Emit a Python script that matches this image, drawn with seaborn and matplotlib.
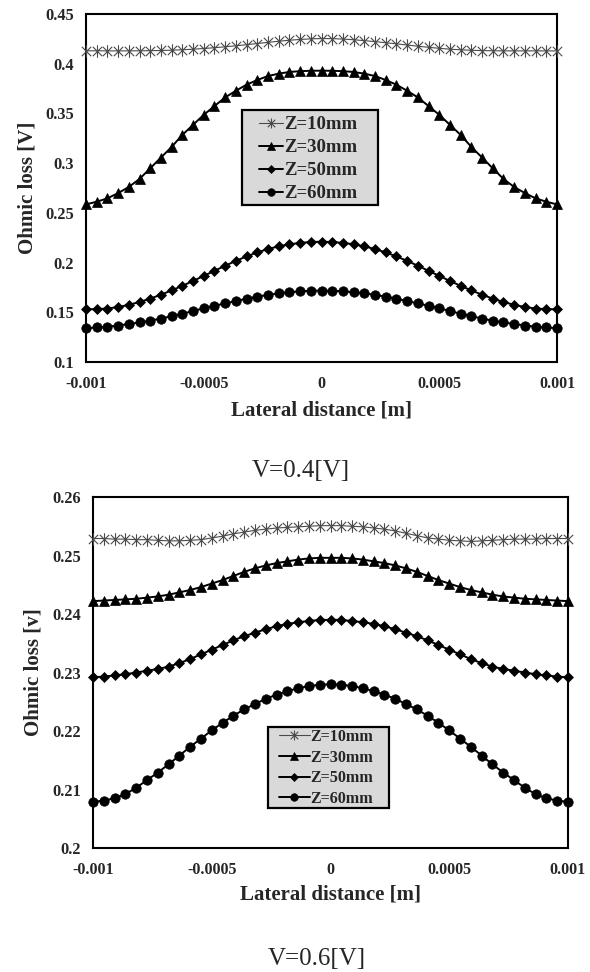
import matplotlib
matplotlib.use("Agg")
import matplotlib.pyplot as plt
from matplotlib.path import Path
from matplotlib.patches import Rectangle
import seaborn as sns
import pandas as pd

# ---------------- data ----------------
lateral = [-0.0010000, -0.0009545, -0.0009091, -0.0008636, -0.0008182, -0.0007727,
           -0.0007273, -0.0006818, -0.0006364, -0.0005909, -0.0005455, -0.0005000,
           -0.0004545, -0.0004091, -0.0003636, -0.0003182, -0.0002727, -0.0002273,
           -0.0001818, -0.0001364, -0.0000909, -0.0000455, 0.0,
           0.0000455, 0.0000909, 0.0001364, 0.0001818, 0.0002273, 0.0002727,
           0.0003182, 0.0003636, 0.0004091, 0.0004545, 0.0005000, 0.0005455,
           0.0005909, 0.0006364, 0.0006818, 0.0007273, 0.0007727, 0.0008182,
           0.0008636, 0.0009091, 0.0009545, 0.0010000]

series_labels = ["Z=10mm", "Z=30mm", "Z=50mm", "Z=60mm"]

# V = 0.4 [V]
top_z10 = [0.4130, 0.4130, 0.4129, 0.4129, 0.4129, 0.4130, 0.4131, 0.4133, 0.4136, 0.4140,
           0.4146, 0.4153, 0.4161, 0.4170, 0.4180, 0.4191, 0.4203, 0.4215, 0.4226, 0.4236,
           0.4244, 0.4250, 0.4253,
           0.4252, 0.4248, 0.4241, 0.4232, 0.4222, 0.4211, 0.4200, 0.4188, 0.4176, 0.4165,
           0.4155, 0.4146, 0.4140, 0.4135, 0.4132, 0.4130, 0.4129, 0.4129, 0.4129, 0.4129,
           0.4129, 0.4129]
top_z30 = [0.2585, 0.2612, 0.2646, 0.2699, 0.2760, 0.2841, 0.2948, 0.3056, 0.3163, 0.3284,
           0.3385, 0.3486, 0.3574, 0.3661, 0.3728, 0.3789, 0.3836, 0.3876, 0.3900, 0.3917,
           0.3925, 0.3929, 0.3930,
           0.3929, 0.3925, 0.3917, 0.3900, 0.3876, 0.3836, 0.3789, 0.3728, 0.3661, 0.3574,
           0.3486, 0.3385, 0.3284, 0.3163, 0.3056, 0.2948, 0.2841, 0.2760, 0.2699, 0.2646,
           0.2612, 0.2585]
top_z50 = [0.1530, 0.1532, 0.1538, 0.1553, 0.1575, 0.1603, 0.1637, 0.1677, 0.1720, 0.1766,
           0.1815, 0.1866, 0.1917, 0.1968, 0.2017, 0.2062, 0.2102, 0.2136, 0.2163, 0.2184,
           0.2198, 0.2207, 0.2210,
           0.2207, 0.2198, 0.2184, 0.2163, 0.2136, 0.2102, 0.2062, 0.2017, 0.1968, 0.1917,
           0.1866, 0.1815, 0.1766, 0.1720, 0.1677, 0.1637, 0.1603, 0.1575, 0.1553, 0.1538,
           0.1532, 0.1530]
top_z60 = [0.1340, 0.1348, 0.1356, 0.1367, 0.1382, 0.1398, 0.1416, 0.1437, 0.1460, 0.1485,
           0.1512, 0.1540, 0.1565, 0.1589, 0.1613, 0.1636, 0.1657, 0.1675, 0.1690, 0.1702,
           0.1711, 0.1717, 0.1719,
           0.1717, 0.1711, 0.1702, 0.1690, 0.1675, 0.1657, 0.1636, 0.1613, 0.1589, 0.1565,
           0.1540, 0.1512, 0.1485, 0.1460, 0.1437, 0.1416, 0.1398, 0.1382, 0.1367, 0.1356,
           0.1348, 0.1340]

# V = 0.6 [V]
bot_z10 = [0.2529, 0.2529, 0.2528, 0.2528, 0.2527, 0.2527, 0.2526, 0.2525, 0.2525, 0.2526,
           0.2527, 0.2530, 0.2533, 0.2537, 0.2540, 0.2543, 0.2545, 0.2547, 0.2548, 0.2549,
           0.2550, 0.2551, 0.2551,
           0.2551, 0.2550, 0.2549, 0.2547, 0.2545, 0.2542, 0.2538, 0.2534, 0.2530, 0.2528,
           0.2526, 0.2525, 0.2524, 0.2525, 0.2526, 0.2527, 0.2528, 0.2528, 0.2528, 0.2529,
           0.2529, 0.2529]
bot_z30 = [0.2422, 0.2423, 0.2424, 0.2425, 0.2426, 0.2428, 0.2430, 0.2433, 0.2437, 0.2441,
           0.2446, 0.2452, 0.2458, 0.2465, 0.2472, 0.2478, 0.2483, 0.2487, 0.2490, 0.2493,
           0.2495, 0.2496, 0.2496,
           0.2496, 0.2495, 0.2493, 0.2490, 0.2487, 0.2483, 0.2478, 0.2472, 0.2465, 0.2458,
           0.2452, 0.2446, 0.2441, 0.2437, 0.2433, 0.2430, 0.2428, 0.2426, 0.2425, 0.2424,
           0.2423, 0.2422]
bot_z50 = [0.2292, 0.2293, 0.2295, 0.2297, 0.2300, 0.2303, 0.2306, 0.2310, 0.2316, 0.2323,
           0.2331, 0.2339, 0.2347, 0.2355, 0.2362, 0.2368, 0.2374, 0.2379, 0.2383, 0.2386,
           0.2388, 0.2390, 0.2390,
           0.2390, 0.2388, 0.2386, 0.2383, 0.2379, 0.2374, 0.2368, 0.2362, 0.2355, 0.2347,
           0.2339, 0.2331, 0.2323, 0.2316, 0.2310, 0.2306, 0.2303, 0.2300, 0.2297, 0.2295,
           0.2293, 0.2292]
bot_z60 = [0.2079, 0.2081, 0.2085, 0.2092, 0.2103, 0.2116, 0.2129, 0.2143, 0.2158, 0.2173,
           0.2187, 0.2201, 0.2214, 0.2226, 0.2237, 0.2246, 0.2255, 0.2262, 0.2268, 0.2273,
           0.2277, 0.2279, 0.2280,
           0.2279, 0.2277, 0.2273, 0.2268, 0.2262, 0.2255, 0.2246, 0.2237, 0.2226, 0.2214,
           0.2201, 0.2187, 0.2173, 0.2158, 0.2143, 0.2129, 0.2116, 0.2103, 0.2092, 0.2085,
           0.2081, 0.2079]

x_ticks = [-0.001, -0.0005, 0, 0.0005, 0.001]
x_tick_labels = ["-0.001", "-0.0005", "0", "0.0005", "0.001"]
top_y_ticks = [0.1, 0.15, 0.2, 0.25, 0.3, 0.35, 0.4, 0.45]
top_y_tick_labels = ["0.1", "0.15", "0.2", "0.25", "0.3", "0.35", "0.4", "0.45"]
bot_y_ticks = [0.2, 0.21, 0.22, 0.23, 0.24, 0.25, 0.26]
bot_y_tick_labels = ["0.2", "0.21", "0.22", "0.23", "0.24", "0.25", "0.26"]

# ---------------- style ----------------
sns.set_theme(style="white")
plt.rcParams["font.family"] = ["Liberation Serif", "DejaVu Serif"]

# Excel-like "star" marker: an X with a vertical stroke
star_path = Path(
    [(0, -1), (0, 1), (-0.75, -0.75), (0.75, 0.75), (-0.75, 0.75), (0.75, -0.75)],
    [Path.MOVETO, Path.LINETO, Path.MOVETO, Path.LINETO, Path.MOVETO, Path.LINETO],
)

styles = {
    "Z=10mm": dict(marker=star_path, markersize=9, markerfacecolor="none",
                   markeredgecolor="#4a4a4a", markeredgewidth=0.8,
                   color="#4a4a4a", linewidth=0.8),
    "Z=30mm": dict(marker="^", markersize=6.5, markerfacecolor="black",
                   markeredgecolor="black", markeredgewidth=0.5,
                   color="black", linewidth=1.4),
    "Z=50mm": dict(marker="D", markersize=4.8, markerfacecolor="black",
                   markeredgecolor="black", markeredgewidth=0.5,
                   color="black", linewidth=1.4),
    "Z=60mm": dict(marker="o", markersize=6.8, markerfacecolor="black",
                   markeredgecolor="black", markeredgewidth=0.5,
                   color="black", linewidth=1.4),
}

W, H = 590, 972
fig = plt.figure(figsize=(W / 100, H / 100), dpi=100)
ax1 = fig.add_axes([86 / W, 1 - 362 / H, 471 / W, 348 / H])
ax2 = fig.add_axes([93 / W, 1 - 848 / H, 475 / W, 351 / H])


def draw(ax, ys, yticks, yticklabels, ylim, ylabel, box_px, leg_px, leg_size,
         handlelen, lspace, ylabel_x, xlabel_y):
    for lab, y in zip(series_labels, ys):
        df = pd.DataFrame({"x": lateral, "y": y})
        sns.lineplot(data=df, x="x", y="y", ax=ax, label=lab, clip_on=False,
                     zorder=3, **styles[lab])
    ax.set_xlim(-0.001, 0.001)
    ax.set_ylim(*ylim)
    ax.set_xticks(x_ticks)
    ax.set_xticklabels(x_tick_labels, fontsize=11.5, fontweight="bold")
    ax.set_yticks(yticks)
    ax.set_yticklabels(yticklabels, fontsize=11.8, fontweight="bold")
    ax.tick_params(axis="x", length=0, pad=10)
    ax.tick_params(axis="y", length=0, pad=8.5)
    for sp in ax.spines.values():
        sp.set_visible(True)
        sp.set_color("black")
        sp.set_linewidth(1.5)
    ax.set_xlabel("Lateral distance [m]", fontsize=15, fontweight="bold")
    ax.set_ylabel(ylabel, fontsize=15, fontweight="bold")
    ax.xaxis.set_label_coords(0.5, xlabel_y)
    ax.yaxis.set_label_coords(ylabel_x, 0.5)
    ax.grid(False)
    # legend box (grey panel with black frame)
    x0, y0, x1, y1 = box_px
    rect = Rectangle((x0 / W, 1 - y1 / H), (x1 - x0) / W, (y1 - y0) / H,
                     transform=fig.transFigure, facecolor="#d9d9d9",
                     edgecolor="black", linewidth=1.6, zorder=4, clip_on=False)
    ax.add_patch(rect)
    lx, ly = leg_px
    leg = ax.legend(loc="upper left", bbox_to_anchor=(lx / W, 1 - ly / H),
                    bbox_transform=fig.transFigure, frameon=False,
                    prop=dict(weight="bold", size=leg_size, family="Liberation Serif"),
                    handlelength=handlelen, handletextpad=0.05, labelspacing=lspace,
                    borderpad=0.0, borderaxespad=0, markerscale=0.8)
    leg.set_zorder(5)


draw(ax1, [top_z10, top_z30, top_z50, top_z60], top_y_ticks, top_y_tick_labels,
     (0.1, 0.45), "Ohmic loss [V]", (242, 110, 378, 205), (259, 116), 13.5,
     1.3, 0.32, -0.104, -0.11)
draw(ax2, [bot_z10, bot_z30, bot_z50, bot_z60], bot_y_ticks, bot_y_tick_labels,
     (0.2, 0.26), "Ohmic loss [v]", (268, 727, 389, 808), (279, 729), 11.6,
     1.9, 0.29, -0.105, -0.103)

fig.text(301 / W, 1 - 471 / H, "V=0.4[V]", ha="center", va="center", fontsize=18)
fig.text(317 / W, 1 - 959 / H, "V=0.6[V]", ha="center", va="center", fontsize=18)

fig.savefig("out.png", dpi=100)
